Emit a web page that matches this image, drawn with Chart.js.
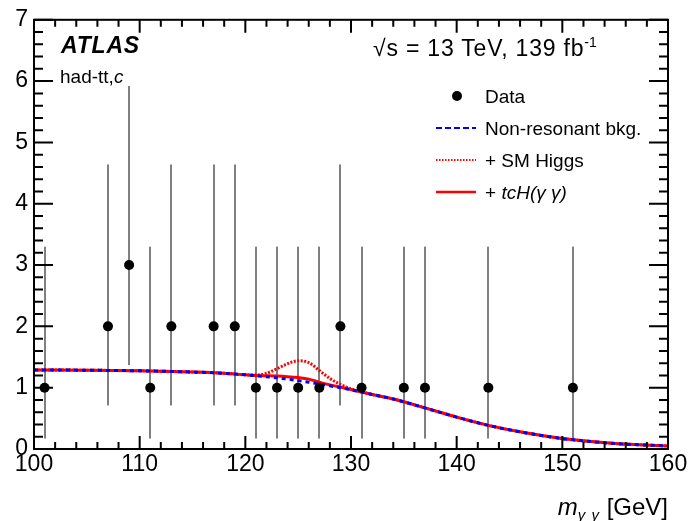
<!DOCTYPE html>
<html lang="en">
<head>
<meta charset="UTF-8">
<title>had-tt,c diphoton invariant mass</title>
<script src="https://cdn.jsdelivr.net/npm/chart.js"></script>
<style>
    body {
        margin: 0;
        background: #fff;
        font-family: "Liberation Sans", Arial, Helvetica, sans-serif;
    }

    #wrap {
        position: relative;
        width: 690px;
        height: 521px;
    }

    #wrap canvas {
        position: absolute;
        left: 0;
        top: 0;
    }

    .lbl {
        position: absolute;
        white-space: nowrap;
        color: #000;
        line-height: 1;
    }

    #atlas { left: 61px; top: 34px; font-size: 23px; font-weight: bold; font-style: italic; letter-spacing: 0.8px; }
    #channel { left: 60px; top: 67px; font-size: 19px; }
    #energy { left: 373px; top: 37px; font-size: 23px; letter-spacing: 0.8px; }
    #energy sup { font-size: 14px; vertical-align: 9px; line-height: 0; letter-spacing: 0; }
    .leg { left: 485px; font-size: 19px; }
    #xtitle { right: 22px; top: 495px; font-size: 24px; }
    #xtitle sub { font-size: 15px; vertical-align: -5px; line-height: 0; font-style: italic; letter-spacing: 1px; }
</style>
</head>
<body>
<div id="wrap">
    <canvas id="massChart" width="690" height="521"></canvas>
    <div class="lbl" id="atlas">ATLAS</div>
    <div class="lbl" id="channel">had-tt,<i>c</i></div>
    <div class="lbl" id="energy">√s = 13 TeV, 139 fb<sup>-1</sup></div>
    <div class="lbl leg" style="top: 87px;">Data</div>
    <div class="lbl leg" style="top: 119px;">Non-resonant bkg.</div>
    <div class="lbl leg" style="top: 151px;">+ SM Higgs</div>
    <div class="lbl leg" style="top: 183px;">+ <i>tcH(γ γ)</i></div>
    <div class="lbl" id="xtitle"><i>m</i><sub>γ γ</sub> [GeV]</div>
</div>

<script>
    // data points (bin centres in GeV) with Poisson error bar edges
    const massBins = [101, 107, 109, 111, 113, 117, 119, 121, 123, 125, 127, 129, 131, 135, 137, 143, 151];
    const events = [1, 2, 3, 1, 2, 2, 2, 1, 1, 1, 1, 2, 1, 1, 1, 1, 1];
    const errLowEdge = [0.17, 0.71, 1.37, 0.17, 0.71, 0.71, 0.71, 0.17, 0.17, 0.17, 0.17, 0.71, 0.17, 0.17, 0.17, 0.17, 0.17];
    const errHighEdge = [3.30, 4.64, 5.92, 3.30, 4.64, 4.64, 4.64, 3.30, 3.30, 3.30, 3.30, 4.64, 3.30, 3.30, 3.30, 3.30, 3.30];

    // fitted curves
    const fitMass = [100, 105, 110, 115, 118, 120, 121, 122, 123, 124, 125, 126, 127, 128, 129, 130, 132, 134, 136, 138, 140, 143, 146, 150, 155, 160];
    const bkgFit = [1.29, 1.285, 1.275, 1.255, 1.235, 1.21, 1.195, 1.18, 1.16, 1.14, 1.115, 1.09, 1.06, 1.03, 1.0, 0.965, 0.89, 0.815, 0.72, 0.62, 0.52, 0.385, 0.28, 0.17, 0.09, 0.05];
    const smHiggsFit = [1.29, 1.285, 1.275, 1.255, 1.235, 1.21, 1.205, 1.235, 1.31, 1.39, 1.44, 1.41, 1.28, 1.15, 1.055, 0.98, 0.89, 0.815, 0.72, 0.62, 0.52, 0.385, 0.28, 0.17, 0.09, 0.05];
    const tcHFit = [1.29, 1.285, 1.275, 1.255, 1.235, 1.21, 1.2, 1.195, 1.19, 1.18, 1.165, 1.14, 1.09, 1.045, 1.01, 0.97, 0.89, 0.815, 0.72, 0.62, 0.52, 0.385, 0.28, 0.17, 0.09, 0.05];

    const xMin = 100, xMax = 160, xMajor = 10, xMinor = 2;
    const yMin = 0, yMax = 7, yMajor = 1, yMinor = 0.2;

    const tickFont = { family: '"Liberation Sans", Arial, sans-serif', size: 23 };

    function toXY(xs, ys) {
        return xs.map((x, i) => ({ x: x, y: ys[i] }));
    }

    // error bars under the markers
    const errorBars = {
        id: 'errorBars',
        beforeDatasetsDraw(chart) {
            const { ctx, scales: { x, y } } = chart;
            ctx.save();
            ctx.strokeStyle = '#000';
            ctx.lineWidth = 1;
            massBins.forEach((m, i) => {
                const px = Math.round(x.getPixelForValue(m));
                ctx.beginPath();
                ctx.moveTo(px, y.getPixelForValue(errLowEdge[i]));
                ctx.lineTo(px, y.getPixelForValue(errHighEdge[i]));
                ctx.stroke();
            });
            ctx.restore();
        }
    };

    // ROOT style frame with inward ticks on all four sides, plus legend symbols
    const frameAndLegend = {
        id: 'frameAndLegend',
        afterDraw(chart) {
            const { ctx, chartArea: a, scales: { x, y } } = chart;
            ctx.save();
            ctx.strokeStyle = '#000';
            ctx.lineWidth = 2;
            ctx.strokeRect(a.left, a.top, a.right - a.left, a.bottom - a.top);

            ctx.beginPath();
            for (let v = xMin; v <= xMax + 1e-6; v += xMinor) {
                const px = x.getPixelForValue(v);
                const len = Math.abs(v % xMajor) < 1e-6 ? 13 : 7;
                ctx.moveTo(px, a.bottom); ctx.lineTo(px, a.bottom - len);
                ctx.moveTo(px, a.top); ctx.lineTo(px, a.top + len);
            }
            for (let k = 0; k <= Math.round((yMax - yMin) / yMinor); k++) {
                const v = yMin + k * yMinor;
                const py = y.getPixelForValue(v);
                const len = k % 5 === 0 ? 19 : 9;
                ctx.moveTo(a.left, py); ctx.lineTo(a.left + len, py);
                ctx.moveTo(a.right, py); ctx.lineTo(a.right - len, py);
            }
            ctx.stroke();

            // legend symbols
            ctx.fillStyle = '#000';
            ctx.beginPath();
            ctx.arc(457, 96, 5, 0, Math.PI * 2);
            ctx.fill();

            ctx.lineWidth = 2;
            ctx.strokeStyle = '#0000ff';
            ctx.setLineDash([6, 3]);
            ctx.beginPath(); ctx.moveTo(436, 128); ctx.lineTo(476, 128); ctx.stroke();

            ctx.strokeStyle = '#ff0000';
            ctx.setLineDash([1.5, 1.5]);
            ctx.beginPath(); ctx.moveTo(436, 160); ctx.lineTo(476, 160); ctx.stroke();

            ctx.setLineDash([]);
            ctx.lineWidth = 2.5;
            ctx.beginPath(); ctx.moveTo(436, 192); ctx.lineTo(476, 192); ctx.stroke();
            ctx.restore();
        }
    };

    const ctx = document.getElementById('massChart').getContext('2d');
    const massChart = new Chart(ctx, {
        type: 'scatter',
        data: {
            datasets: [
                {
                    label: 'Data',
                    data: toXY(massBins, events),
                    pointRadius: 5,
                    pointBackgroundColor: '#000',
                    pointBorderWidth: 0,
                    showLine: false,
                    order: 0
                },
                {
                    label: 'Non-resonant bkg.',
                    type: 'line',
                    data: toXY(fitMass, bkgFit),
                    borderColor: '#0000ff',
                    borderWidth: 3,
                    borderDash: [4, 4],
                    pointRadius: 0,
                    cubicInterpolationMode: 'monotone',
                    fill: false,
                    order: 1
                },
                {
                    label: '+ SM Higgs',
                    type: 'line',
                    data: toXY(fitMass, smHiggsFit),
                    borderColor: '#ff0000',
                    borderWidth: 3,
                    borderDash: [2, 1.5],
                    pointRadius: 0,
                    cubicInterpolationMode: 'monotone',
                    fill: false,
                    order: 3
                },
                {
                    label: '+ tcH(γγ)',
                    type: 'line',
                    data: toXY(fitMass, tcHFit),
                    borderColor: '#ff0000',
                    borderWidth: 3,
                    pointRadius: 0,
                    cubicInterpolationMode: 'monotone',
                    fill: false,
                    order: 2
                }
            ]
        },
        options: {
            responsive: false,
            animation: false,
            layout: { padding: { top: 18, right: 22, left: 0, bottom: 0 } },
            plugins: {
                legend: { display: false },
                tooltip: { enabled: false }
            },
            scales: {
                x: {
                    type: 'linear',
                    min: xMin,
                    max: xMax,
                    afterFit(scale) { scale.height = 72; },
                    grid: { display: false, drawTicks: false },
                    border: { display: false },
                    ticks: { stepSize: xMajor, padding: 2, color: '#000', font: tickFont, maxRotation: 0, autoSkip: false }
                },
                y: {
                    min: yMin,
                    max: yMax,
                    afterFit(scale) { scale.width = 34; },
                    grid: { display: false, drawTicks: false },
                    border: { display: false },
                    ticks: { stepSize: yMajor, padding: 6, color: '#000', font: tickFont }
                }
            }
        },
        plugins: [errorBars, frameAndLegend]
    });
</script>
</body>
</html>
